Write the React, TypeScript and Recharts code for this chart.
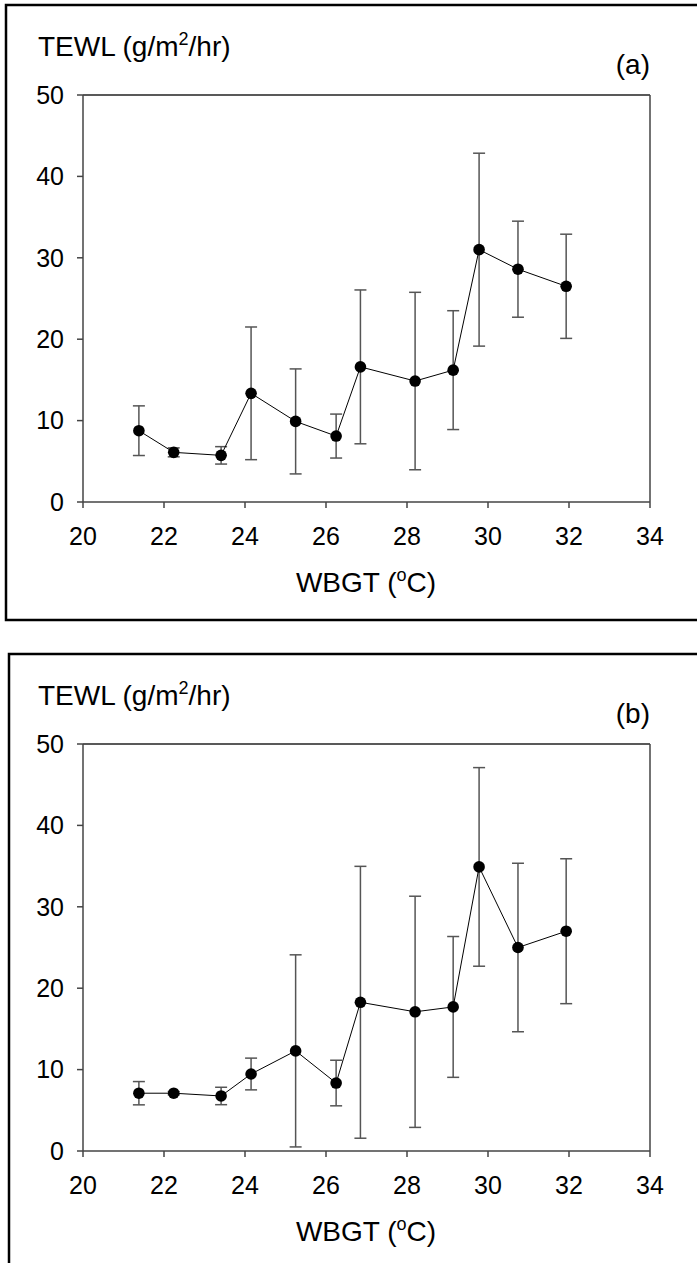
import { ComposedChart, Line, XAxis, YAxis, ErrorBar, ReferenceLine } from "recharts"

// WBGT (°C) at each measurement point, shared by both panels
const wbgt = [21.38, 22.24, 23.41, 24.15, 25.25, 26.25, 26.85, 28.2, 29.14, 29.78, 30.74, 31.93]

// panel (a)
const tewlA = [8.76, 6.1, 5.73, 13.35, 9.9, 8.1, 16.6, 14.86, 16.2, 31.0, 28.6, 26.5]
const sdA = [3.05, 0.55, 1.07, 8.15, 6.45, 2.7, 9.45, 10.9, 7.3, 11.85, 5.9, 6.4]

// panel (b)
const tewlB = [7.1, 7.1, 6.76, 9.46, 12.3, 8.35, 18.27, 17.1, 17.7, 34.9, 25.0, 27.0]
const sdB = [1.43, 0.2, 1.07, 1.95, 11.8, 2.8, 16.7, 14.2, 8.65, 12.2, 10.35, 8.9]

const xTicks = [20, 22, 24, 26, 28, 30, 32, 34]
const yTicks = [0, 10, 20, 30, 40, 50]

const FONT = "'Liberation Sans', Arial, sans-serif"
const AXIS = "#444"
const PANEL_H = 649

function toRows(y: number[], sd: number[]) {
  return wbgt.map((x, i) => ({ x, y: y[i], sd: sd[i] }))
}

function Panel({ rows, top }: { rows: { x: number; y: number; sd: number }[]; top: number }) {
  return (
    <div style={{ position: "absolute", left: 0, top }}>
      <ComposedChart width={697} height={PANEL_H} data={rows} margin={{ top: 95, right: 47, bottom: 0, left: 0 }}>
        <XAxis
          type="number"
          dataKey="x"
          domain={[20, 34]}
          ticks={xTicks}
          interval={0}
          height={147}
          axisLine={{ stroke: AXIS, strokeWidth: 1.5 }}
          tickLine={{ stroke: AXIS, strokeWidth: 1.5 }}
          tickSize={6}
          tickMargin={19}
          tick={{ fill: "#000", fontSize: 25, fontFamily: FONT }}
        />
        <YAxis
          type="number"
          domain={[0, 50]}
          ticks={yTicks}
          interval={0}
          width={83}
          axisLine={{ stroke: AXIS, strokeWidth: 1.5 }}
          tickLine={{ stroke: AXIS, strokeWidth: 1.5 }}
          tickSize={6}
          tickMargin={13}
          tick={{ fill: "#000", fontSize: 25, fontFamily: FONT }}
        />
        <ReferenceLine y={50} stroke="#222" strokeWidth={1.5} />
        <ReferenceLine x={34} stroke={AXIS} strokeWidth={1.5} />
        <Line
          dataKey="y"
          type="linear"
          stroke="#000"
          strokeWidth={1}
          dot={{ r: 5.8, fill: "#000", stroke: "#000", strokeWidth: 0 }}
          activeDot={false}
          isAnimationActive={false}
        >
          <ErrorBar dataKey="sd" direction="y" width={6} stroke="#555" strokeWidth={1.5} />
        </Line>
      </ComposedChart>
    </div>
  )
}

function Titles({ dy, tag }: { dy: number; tag: string }) {
  return (
    <g fontFamily={FONT} fill="#000">
      <text x={38} y={56 + dy} fontSize={28}>
        TEWL (g/m<tspan fontSize={18} dy={-11}>2</tspan>
        <tspan dy={11}>/hr)</tspan>
      </text>
      <text x={650} y={73.5 + dy} fontSize={28} textAnchor="end">
        {tag}
      </text>
      <text x={366} y={591.5 + dy} fontSize={28} textAnchor="middle">
        WBGT (<tspan fontSize={18} dy={-11}>o</tspan>
        <tspan dy={11}>C)</tspan>
      </text>
    </g>
  )
}

export default function App() {
  return (
    <div style={{ position: "absolute", left: 0, top: 0, width: 697, height: 1263, background: "#fff", overflow: "hidden" }}>
      <Panel rows={toRows(tewlA, sdA)} top={0} />
      <Panel rows={toRows(tewlB, sdB)} top={PANEL_H} />
      <svg width={697} height={1263} style={{ position: "absolute", left: 0, top: 0, pointerEvents: "none" }}>
        {/* outer frames, they run off the right edge */}
        <path d="M700,5 L6,5 L6,620 L700,620" fill="none" stroke="#000" strokeWidth={2.5} />
        <path d="M700,654 L9,654 L9,1270" fill="none" stroke="#000" strokeWidth={2.5} />
        <Titles dy={0} tag="(a)" />
        <Titles dy={PANEL_H} tag="(b)" />
      </svg>
    </div>
  )
}
